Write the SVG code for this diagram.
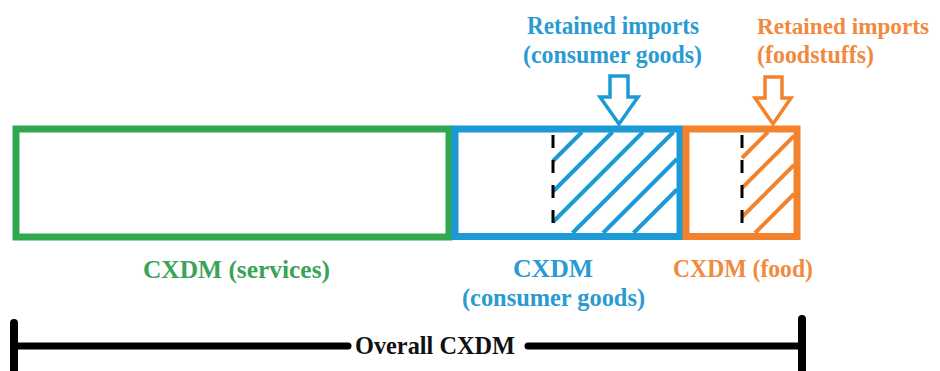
<svg xmlns="http://www.w3.org/2000/svg" width="940" height="371" viewBox="0 0 940 371">
<style>
  .t { font-family: "Liberation Serif", "Times New Roman", "DejaVu Serif", serif; font-weight: bold; font-size: 26px; }
  .box { fill: none; stroke-width: 7; }
  .hatch { stroke-width: 4; fill: none; }
  .dash { stroke: #000; stroke-width: 3; stroke-dasharray: 13 12; fill: none; }
  .arrow { fill: #fff; stroke-width: 3.5; stroke-linejoin: miter; }
  .blue { stroke: #1b9ad6; }
  .green { stroke: #2fa84f; }
  .orange { stroke: #f2822c; }
  .tb { fill: #2a9bd2; }
  .tg { fill: #3aa35a; }
  .to { fill: #f08a3e; }
</style>
<rect width="940" height="371" fill="#fff"/>

<g id="services">
  <rect class="box green" x="16" y="129" width="433" height="108"/>
  <text class="t tg" x="143" y="278" textLength="187" lengthAdjust="spacingAndGlyphs">CXDM (services)</text>
</g>

<g id="consumer-goods">
  <rect class="box blue" x="455" y="129" width="225" height="107.5"/>
  <g class="hatch blue">
    <line x1="553" y1="161" x2="582" y2="132"/>
    <line x1="553" y1="191.5" x2="612.5" y2="132"/>
    <line x1="553" y1="222" x2="643" y2="132"/>
    <line x1="572.5" y1="233" x2="673.5" y2="132"/>
    <line x1="603" y1="233" x2="677" y2="159"/>
    <line x1="633.5" y1="233" x2="677" y2="189.5"/>
  </g>
  <line class="dash" x1="553" y1="135" x2="553" y2="226"/>
  <text class="t tb" x="513" y="277" textLength="80" lengthAdjust="spacingAndGlyphs">CXDM</text>
  <text class="t tb" x="462" y="306" textLength="183" lengthAdjust="spacingAndGlyphs">(consumer goods)</text>
</g>

<g id="food">
  <rect class="box orange" x="686" y="129" width="111" height="107.5"/>
  <g class="hatch orange">
    <line x1="742" y1="158" x2="768" y2="132"/>
    <line x1="742" y1="188" x2="794" y2="136"/>
    <line x1="742" y1="217" x2="794" y2="165"/>
    <line x1="755" y1="233" x2="794" y2="194"/>
  </g>
  <line class="dash" x1="742" y1="135" x2="742" y2="226"/>
  <text class="t to" x="673" y="277" textLength="140" lengthAdjust="spacingAndGlyphs">CXDM (food)</text>
</g>

<g id="retained-consumer">
  <text class="t tb" x="527" y="34" textLength="172" lengthAdjust="spacingAndGlyphs">Retained imports</text>
  <text class="t tb" x="523" y="63" textLength="179" lengthAdjust="spacingAndGlyphs">(consumer goods)</text>
</g>

<g id="retained-food">
  <text class="t to" style="font-size:24px" x="757" y="34" textLength="172" lengthAdjust="spacingAndGlyphs">Retained imports</text>
  <text class="t to" x="757" y="63" textLength="117" lengthAdjust="spacingAndGlyphs">(foodstuffs)</text>
</g>

<g id="connectors">
  <path class="arrow blue" d="M610,76 L628,76 L628,97 L638,97 L619,124 L600,97 L610,97 Z"/>
  <path class="arrow orange" d="M765,77 L782,77 L782,98 L791,98 L773,124 L755,98 L765,98 Z"/>
</g>

<g id="overall">
  <g stroke="#000" stroke-linecap="round" fill="none">
    <line x1="14" y1="346" x2="348" y2="346" stroke-width="7"/>
    <line x1="528" y1="346" x2="802" y2="346" stroke-width="7"/>
    <line x1="14" y1="323" x2="14" y2="375" stroke-width="8"/>
    <line x1="802" y1="319" x2="802" y2="375" stroke-width="8"/>
  </g>
  <text class="t" fill="#111" x="355" y="354" textLength="160" lengthAdjust="spacingAndGlyphs">Overall CXDM</text>
</g>
</svg>
